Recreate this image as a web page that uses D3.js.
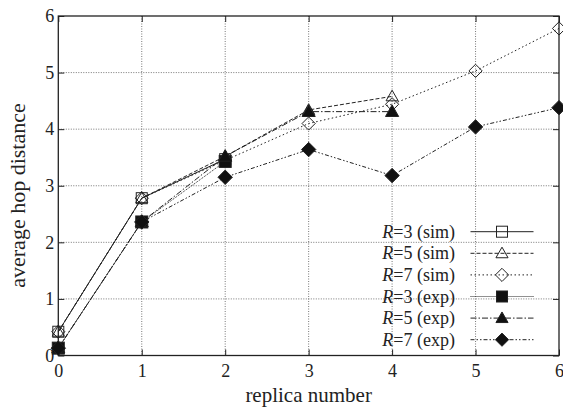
<!DOCTYPE html>
<html><head><meta charset="utf-8">
<script src="https://cdn.jsdelivr.net/npm/d3@7"></script>
</head><body style="margin:0"><svg id="c" width="563" height="408" font-family="Liberation Serif" style="font-family:'Liberation Serif'"></svg>
<script>
const xTicks = [0,1,2,3,4,5,6];
const yTicks = [0,1,2,3,4,5,6];
const xLabel = "replica number";
const yLabel = "average hop distance";
const seriesNames = ["R=3 (sim)","R=5 (sim)","R=7 (sim)","R=3 (exp)","R=5 (exp)","R=7 (exp)"];
const r3sim = [0.42, 2.78, 3.47];
const r5sim = [0.42, 2.78, 3.52, 4.34, 4.58];
const r7sim = [0.42, 2.78, 3.45, 4.10, 4.44, 5.03, 5.78];
const r3exp = [0.13, 2.36, 3.43];
const r5exp = [0.13, 2.36, 3.52, 4.31, 4.31];
const r7exp = [0.13, 2.36, 3.15, 3.64, 3.18, 4.04, 4.38];

const styles = [
  {vals:r3sim, marker:"square", fill:"none", dash:null},
  {vals:r5sim, marker:"triangle", fill:"none", dash:"4,2"},
  {vals:r7sim, marker:"diamond", fill:"none", dash:"1.5,2.5"},
  {vals:r3exp, marker:"square", fill:"#111", dash:"1,1"},
  {vals:r5exp, marker:"triangle", fill:"#111", dash:"6,2,1.5,2"},
  {vals:r7exp, marker:"diamond", fill:"#111", dash:"4,2,1.5,2,1.5,2"}
];

const FONT = "'Liberation Serif'";
const svg = d3.select("#c");
const L=58.3, R=559, T=16, B=355.5;
const x = d3.scaleLinear().domain([0,6]).range([L,R]);
const y = d3.scaleLinear().domain([0,6]).range([B,T]);

const g = svg.append("g");
g.selectAll(".gx").data(xTicks.slice(1,-1)).join("line")
 .attr("x1",d=>x(d)).attr("x2",d=>x(d)).attr("y1",T).attr("y2",B)
 .attr("stroke","#555").attr("stroke-width",0.8).attr("stroke-dasharray","1,1.5");
g.selectAll(".gy").data(yTicks.slice(1,-1)).join("line")
 .attr("y1",d=>y(d)).attr("y2",d=>y(d)).attr("x1",L).attr("x2",R)
 .attr("stroke","#555").attr("stroke-width",0.8).attr("stroke-dasharray","1,1.5");

const ax = svg.append("g").attr("transform",`translate(0,${B})`)
 .call(d3.axisBottom(x).tickValues(xTicks).tickSize(-6).tickPadding(9).tickFormat(d3.format("d")));
const ax2 = svg.append("g").attr("transform",`translate(0,${T})`)
 .call(d3.axisTop(x).tickValues(xTicks).tickSize(-6).tickFormat(""));
const ay = svg.append("g").attr("transform",`translate(${L},0)`)
 .call(d3.axisLeft(y).tickValues(yTicks).tickSize(-6).tickPadding(4).tickFormat(d3.format("d")));
const ay2 = svg.append("g").attr("transform",`translate(${R},0)`)
 .call(d3.axisRight(y).tickValues(yTicks).tickSize(-6).tickFormat(""));
[ax,ax2,ay,ay2].forEach(a=>{
  a.attr("font-size",18).attr("font-family","Liberation Serif");
  a.select(".domain").remove();
  a.selectAll("line").attr("stroke","#222").attr("stroke-width",1);
  a.selectAll("text").attr("fill","#222").attr("font-family","Liberation Serif").style("font-family",FONT);
});
svg.append("rect").attr("x",L).attr("y",T).attr("width",R-L).attr("height",B-T)
 .attr("fill","none").attr("stroke","#222").attr("stroke-width",1.3);

function marker(sel, type, fill, s){
  if(type==="square"){
    sel.append("rect").attr("x",-s/2).attr("y",-s/2).attr("width",s).attr("height",s)
      .attr("fill",fill==="none"?"#fff":fill).attr("fill-opacity",fill==="none"?0:1).attr("stroke","#222").attr("stroke-width",1);
  } else if(type==="triangle"){
    const h=s*0.9;
    sel.append("path").attr("d",`M0,${-h*0.62}L${s*0.55},${h*0.45}L${-s*0.55},${h*0.45}Z`)
      .attr("fill",fill==="none"?"none":fill).attr("stroke","#222").attr("stroke-width",1);
  } else {
    sel.append("path").attr("d",`M0,${-s*0.6}L${s*0.6},0L0,${s*0.6}L${-s*0.6},0Z`)
      .attr("fill",fill==="none"?"none":fill).attr("stroke","#222").attr("stroke-width",1);
  }
}

const line = d3.line().x((d,i)=>x(i)).y(d=>y(d));
styles.forEach(st=>{
  svg.append("path").datum(st.vals).attr("d",line).attr("fill","none")
    .attr("stroke","#222").attr("stroke-width",1).attr("stroke-dasharray",st.dash);
});
styles.forEach(st=>{
  st.vals.forEach((v,i)=>{
    const m = svg.append("g").attr("transform",`translate(${x(i)},${y(v)})`);
    marker(m, st.marker, st.fill, st.fill==="none"?11:12);
  });
});

const ly0=231.7, ldy=21.6;
styles.forEach((st,k)=>{
  const yy = ly0+k*ldy;
  const parts = seriesNames[k].split("=");
  const t = svg.append("text").attr("x",455).attr("y",yy+6).attr("text-anchor","end")
    .attr("fill","#222").attr("font-size",18).attr("font-family","Liberation Serif").style("font-family",FONT);
  t.append("tspan").attr("font-style","italic").text(parts[0]);
  t.append("tspan").text("="+parts[1]);
  svg.append("line").attr("x1",470.5).attr("x2",533.5).attr("y1",yy).attr("y2",yy)
    .attr("stroke","#222").attr("stroke-width",1).attr("stroke-dasharray",st.dash);
  const m = svg.append("g").attr("transform",`translate(502,${yy})`);
  marker(m, st.marker, st.fill, 11);
});

svg.append("text").attr("x",(L+R)/2).attr("y",402).attr("text-anchor","middle").attr("fill","#222")
  .attr("font-size",21).attr("font-family","Liberation Serif").style("font-family",FONT).text(xLabel);
svg.append("text").attr("transform",`translate(25,195.5) rotate(-90)`).attr("text-anchor","middle").attr("fill","#222")
  .attr("font-size",22).attr("font-family","Liberation Serif").style("font-family",FONT).text(yLabel);
</script></body></html>
